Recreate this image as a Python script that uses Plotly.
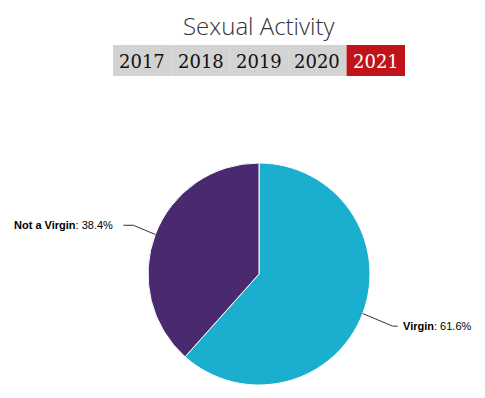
import math
import plotly.graph_objects as go

labels = ["Virgin", "Not a Virgin"]
values = [61.6, 38.4]
colors = ["#1aaecf", "#4a2a6e"]
years = ["2017", "2018", "2019", "2020", "2021"]
active_year = "2021"
title = "Sexual Activity"

W, H = 485, 398
OFF = 8  # page body margin
cx, cy, r = 259, 274, 111

def px(x):
    return (x - OFF) / W

def py(y):
    return 1 - (y - OFF) / H

fig = go.Figure()
fig.add_trace(go.Pie(
    labels=labels, values=values, sort=False, direction="clockwise", rotation=0,
    marker=dict(colors=colors, line=dict(color="white", width=1)),
    textinfo="none", hoverinfo="label+percent", showlegend=False,
    domain=dict(x=[px(cx - r), px(cx + r)], y=[py(cy + r), py(cy - r)]),
))

shapes = []
annotations = []

# title
annotations.append(dict(x=px(cx), y=1, xref="paper", yref="paper", text=title,
                        showarrow=False, xanchor="center", yanchor="top", borderpad=0,
                        font=dict(family="Open Sans", size=24, color="#333333", weight=300)))

# year buttons
bx0, bw, by0, by1 = 113, 58.4, 45, 76
for i, yr in enumerate(years):
    x0 = bx0 + i * bw
    active = yr == active_year
    shapes.append(dict(type="rect", xref="paper", yref="paper",
                       x0=px(x0), x1=px(x0 + bw), y0=py(by1), y1=py(by0),
                       fillcolor="#c0141a" if active else "#d3d3d3", line=dict(width=0), layer="below"))
    annotations.append(dict(x=px(x0 + bw / 2), y=py((by0 + by1) / 2 + 1), xref="paper", yref="paper",
                            text=yr, showarrow=False, xanchor="center", yanchor="middle",
                            font=dict(family="DejaVu Serif", size=18,
                                      color="white" if active else "#111111")))

# outside labels with connectors
total = sum(values)
start = 0.0
for lab, val in zip(labels, values):
    mid = start + val / total * 360.0 / 2
    start += val / total * 360.0
    a = math.radians(mid)
    sx, sy = cx + r * math.sin(a), cy - r * math.cos(a)
    right = math.sin(a) > 0
    if right:
        ly = cy + r * 0.47
        ex, lx, tx = sx + 30, sx + 35, sx + 38
    else:
        ly = cy - r * 0.43 - 1
        ex, lx, tx = sx - 22, sx - 32, sx - 40
    path = f"M {px(sx)},{py(sy)} L {px(ex)},{py(ly)} L {px(lx)},{py(ly)}"
    shapes.append(dict(type="path", xref="paper", yref="paper", path=path,
                       line=dict(color="#333333", width=1)))
    annotations.append(dict(x=px(tx), y=py(ly), xref="paper", yref="paper",
                            text=f"<b>{lab}</b>: {val:.1f}%", showarrow=False,
                            xanchor="left" if right else "right", yanchor="middle",
                            font=dict(family="Liberation Sans", size=11, color="#000000")))

fig.update_layout(
    width=W, height=H, margin=dict(l=0, r=0, t=0, b=0),
    paper_bgcolor="white", plot_bgcolor="white",
    shapes=shapes, annotations=annotations,
)
fig.write_html("out.html")
